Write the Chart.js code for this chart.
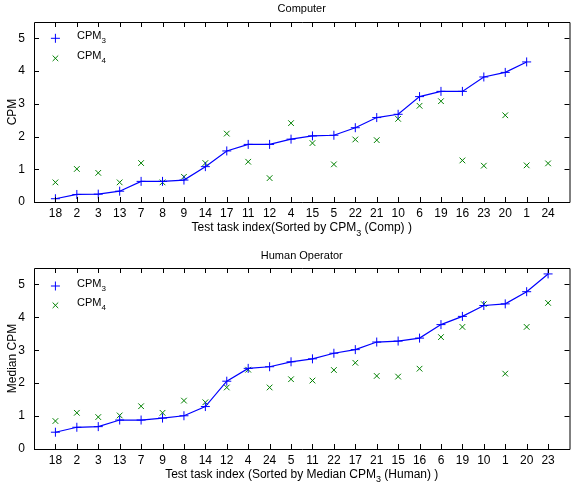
<!DOCTYPE html>
<html>
<head>
<meta charset="utf-8">
<script src="https://cdn.jsdelivr.net/npm/chart.js@4.4.0/dist/chart.umd.min.js"></script>
<style>
  html, body { margin: 0; padding: 0; background: #fff; }
  #wrap { position: relative; width: 575px; height: 489px; overflow: hidden; }
  canvas { position: absolute; left: 0; }
</style>
</head>
<body>
<div id="wrap">
  <canvas id="c1" width="575" height="245" style="top:0"></canvas>
  <canvas id="c2" width="575" height="244" style="top:245px"></canvas>
</div>
<script>
// ---------- data ----------
const catsComp = [18, 2, 3, 13, 7, 8, 9, 14, 17, 11, 12, 4, 15, 5, 22, 21, 10, 6, 19, 16, 23, 20, 1, 24];
const cpm3Comp = [0.10, 0.23, 0.24, 0.33, 0.63, 0.63, 0.67, 1.08, 1.56, 1.76, 1.76, 1.92, 2.02, 2.04, 2.27, 2.58, 2.68, 3.22, 3.38, 3.38, 3.82, 3.96, 4.28, null];
const cpm4Comp = [0.60, 1.01, 0.89, 0.60, 1.19, 0.60, 0.77, 1.19, 2.09, 1.23, 0.73, 2.41, 1.80, 1.15, 1.91, 1.89, 2.54, 2.94, 3.08, 1.27, 1.11, 2.65, 1.12, 1.18];

const catsHuman = [18, 2, 3, 13, 7, 9, 8, 14, 12, 4, 24, 5, 11, 22, 17, 21, 15, 16, 6, 19, 10, 1, 20, 23];
const cpm3Human = [0.51, 0.66, 0.68, 0.88, 0.88, 0.94, 1.01, 1.29, 2.06, 2.45, 2.50, 2.65, 2.74, 2.91, 3.02, 3.25, 3.28, 3.37, 3.78, 4.03, 4.36, 4.41, 4.78, 5.32];
const cpm4Human = [0.85, 1.10, 0.97, 1.02, 1.30, 1.10, 1.47, 1.42, 1.87, 2.41, 1.87, 2.12, 2.08, 2.40, 2.62, 2.22, 2.20, 2.44, 3.40, 3.71, 4.40, 2.29, 3.71, 4.44];

const yTicks = [0, 1, 2, 3, 4, 5];
const seriesNames = [["CPM", "3"], ["CPM", "4"]];

// ---------- styling ----------
const FONT = "'Liberation Sans', Arial, Helvetica, sans-serif";
const BLUE = '#0000ff';
const GREEN = '#008000';
Chart.defaults.color = '#000';
Chart.defaults.font.family = FONT;

function drawParts(ctx, parts, x, y, size, align) {
  const subSize = Math.round(size * 0.72);
  let total = 0;
  const widths = parts.map(p => {
    ctx.font = (p.sub ? subSize : size) + 'px ' + FONT;
    const w = ctx.measureText(p.t).width;
    total += w;
    return w;
  });
  let cx = align === 'center' ? x - total / 2 : x;
  ctx.textBaseline = 'middle';
  ctx.textAlign = 'left';
  parts.forEach((p, i) => {
    ctx.font = (p.sub ? subSize : size) + 'px ' + FONT;
    ctx.fillText(p.t, cx, p.sub ? y + size * 0.45 : y);
    cx += widths[i];
  });
}

const framePlugin = {
  id: 'frame',
  afterDraw(chart, args, opts) {
    const ctx = chart.ctx;
    const a = chart.chartArea;
    const xs = chart.scales.x, ys = chart.scales.y;
    ctx.save();
    ctx.strokeStyle = '#000';
    ctx.lineWidth = 1;
    ctx.beginPath();
    ctx.rect(Math.round(a.left) + 0.5, Math.round(a.top) + 0.5, a.right - a.left, a.bottom - a.top);
    const TL = 5;
    xs.ticks.forEach(t => {
      const px = Math.round(xs.getPixelForValue(t.value)) + 0.5;
      ctx.moveTo(px, a.bottom); ctx.lineTo(px, a.bottom - TL);
      ctx.moveTo(px, a.top); ctx.lineTo(px, a.top + TL);
    });
    ys.ticks.forEach(t => {
      const py = Math.round(ys.getPixelForValue(t.value)) + 0.5;
      ctx.moveTo(a.left, py); ctx.lineTo(a.left + TL, py);
      ctx.moveTo(a.right, py); ctx.lineTo(a.right - TL, py);
    });
    ctx.stroke();

    // legend (inside plot, top-left)
    ctx.fillStyle = '#000';
    const mx = xs.getPixelForValue(1);
    const ly = [a.top + opts.legendY[0], a.top + opts.legendY[1]];
    ctx.lineWidth = 1;
    ctx.strokeStyle = BLUE;
    ctx.beginPath();
    ctx.moveTo(mx - 4.5, ly[0]); ctx.lineTo(mx + 4.5, ly[0]);
    ctx.moveTo(mx, ly[0] - 4.5); ctx.lineTo(mx, ly[0] + 4.5);
    ctx.stroke();
    ctx.strokeStyle = GREEN;
    ctx.beginPath();
    const d = 2.8;
    ctx.moveTo(mx - d, ly[1] - d); ctx.lineTo(mx + d, ly[1] + d);
    ctx.moveTo(mx - d, ly[1] + d); ctx.lineTo(mx + d, ly[1] - d);
    ctx.stroke();
    seriesNames.forEach((n, i) => {
      drawParts(ctx, [{ t: n[0] }, { t: n[1], sub: true }], a.left + 43, ly[i] - 2, 11, 'left');
    });

    // x axis title with subscript
    drawParts(ctx, opts.xTitle, (a.left + a.right) / 2, a.bottom + opts.xTitleOffset, 12, 'center');
    ctx.restore();
  }
};

function makeChart(id, cats, s3, s4, cfg) {
  const pts3 = s3.map((v, i) => ({ x: i + 1, y: v }));
  const pts4 = s4.map((v, i) => ({ x: i + 1, y: v }));
  return new Chart(document.getElementById(id), {
    type: 'scatter',
    data: {
      datasets: [
        {
          label: 'CPM3', data: pts3, showLine: true, spanGaps: false,
          borderColor: BLUE, backgroundColor: BLUE, borderWidth: 1.2,
          pointStyle: 'cross', pointRadius: 4.5, pointBorderWidth: 1,
          pointBorderColor: BLUE, order: 1
        },
        {
          label: 'CPM4', data: pts4, showLine: false,
          borderColor: GREEN, backgroundColor: GREEN,
          pointStyle: 'crossRot', pointRadius: 4, pointBorderWidth: 1,
          pointBorderColor: GREEN, order: 2
        }
      ]
    },
    options: {
      responsive: false,
      animation: false,
      devicePixelRatio: 1,
      layout: { padding: { left: 0, right: 0, top: 0, bottom: 0 } },
      plugins: {
        legend: { display: false },
        tooltip: { enabled: false },
        title: {
          display: true, text: cfg.title, fullSize: false,
          font: { size: 11, weight: 'normal', family: FONT }, color: '#000',
          padding: cfg.titlePad
        },
        frame: { legendY: cfg.legendY, xTitle: cfg.xTitle, xTitleOffset: cfg.xTitleOffset }
      },
      scales: {
        x: {
          type: 'linear', min: 0, max: 25,
          grid: { display: false, drawTicks: false },
          border: { display: false },
          afterBuildTicks: s => { s.ticks = cats.map((c, i) => ({ value: i + 1 })); },
          afterFit: s => { s.height = cfg.xHeight; },
          ticks: {
            autoSkip: false, maxRotation: 0, padding: cfg.xTickPad,
            font: { size: 12, family: FONT }, color: '#000',
            callback: v => String(cats[v - 1])
          }
        },
        y: {
          type: 'linear', min: 0, max: 5.5,
          grid: { display: false, drawTicks: false },
          border: { display: false },
          afterBuildTicks: s => { s.ticks = yTicks.map(v => ({ value: v })); },
          afterFit: s => { s.width = 34; },
          ticks: { padding: 9, font: { size: 12, family: FONT }, color: '#000' },
          title: {
            display: true, text: cfg.yTitle, color: '#000',
            font: { size: 12, family: FONT }, padding: { top: 5, bottom: 0 }
          }
        }
      }
    },
    plugins: [framePlugin]
  });
}

makeChart('c1', catsComp, cpm3Comp, cpm4Comp, {
  title: 'Computer',
  titlePad: { top: 2, bottom: 6.8 },
  yTitle: 'CPM',
  xHeight: 43,
  xTickPad: 4,
  xTitleOffset: 26,
  legendY: [16.3, 36.3],
  xTitle: [{ t: 'Test task index(Sorted by CPM' }, { t: '3', sub: true }, { t: ' (Comp) )' }]
});

makeChart('c2', catsHuman, cpm3Human, cpm4Human, {
  title: 'Human Operator',
  titlePad: { top: 4.2, bottom: 5.6 },
  yTitle: 'Median CPM',
  xHeight: 40,
  xTickPad: 4,
  xTitleOffset: 25.5,
  legendY: [18, 37.3],
  xTitle: [{ t: 'Test task index (Sorted by Median CPM' }, { t: '3', sub: true }, { t: ' (Human) )' }]
});
</script>
</body>
</html>
